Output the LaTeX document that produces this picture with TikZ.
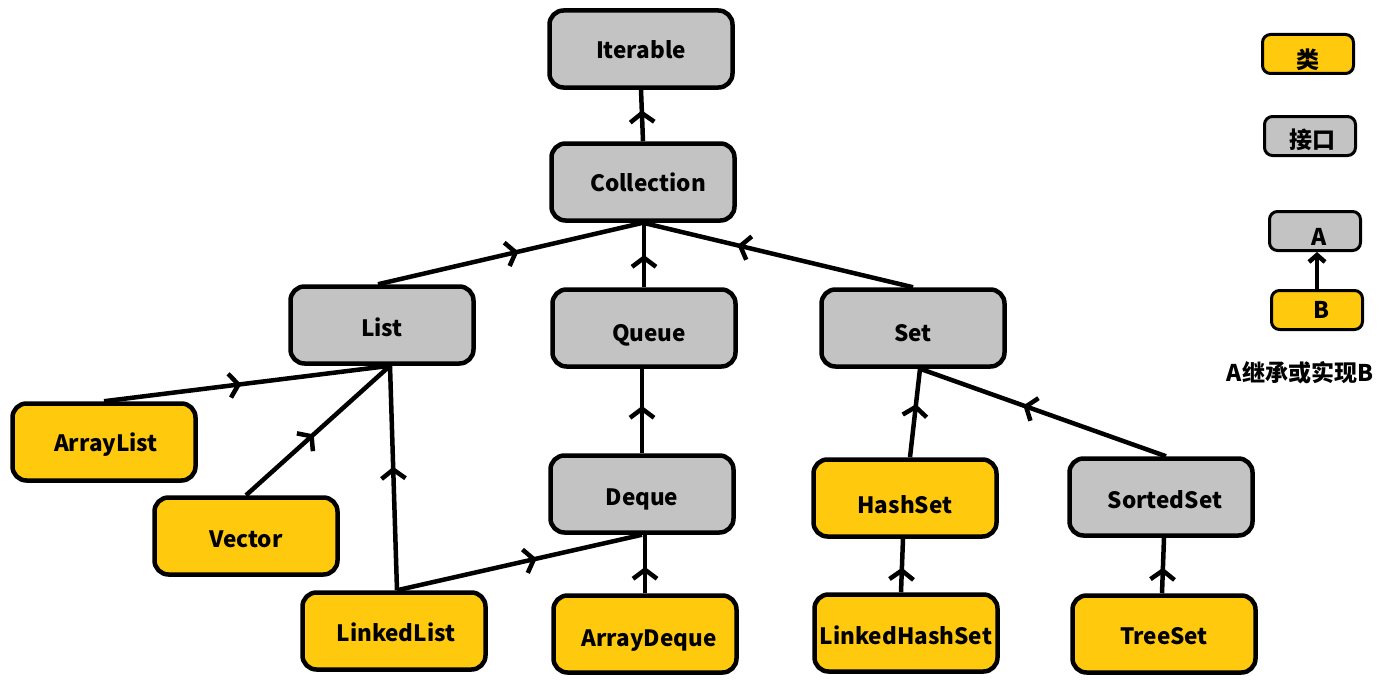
\documentclass[tikz,border=0pt]{standalone}
\usepackage{fontspec}
\setmainfont{Noto Sans CJK SC}
\newfontfamily\cjk{Noto Sans CJK SC}
\usetikzlibrary{arrows.meta,decorations.markings}
\definecolor{cls}{HTML}{FFC90E}
\definecolor{ifc}{HTML}{C3C3C3}
\newcommand{\dn}[2]{\raisebox{-#1}{#2}}
\tikzset{
  box/.style={draw=black, line width=4.5pt, rounded corners=14pt,
    minimum width=183pt, minimum height=77pt, inner sep=0pt,
    text height=14pt, text depth=0pt,
    font=\cjk\fontsize{22.5}{24}\selectfont\bfseries},
  clsbox/.style={box, fill=cls},
  ifcbox/.style={box, fill=ifc},
  legbox/.style={draw=black, line width=3pt, rounded corners=8pt,
    minimum width=91pt, minimum height=39pt, inner sep=0pt,
    text height=14pt, text depth=0pt,
    font=\cjk\fontsize{23}{25}\selectfont\bfseries},
  inh/.style={line width=4.5pt, postaction={decorate},
    decoration={markings, mark=at position #1 with {\arrow{Straight Barb[length=9pt,width=24pt]}}}},
  inh/.default=0.5
}
\begin{document}
\begin{tikzpicture}[x=1pt, y=-1pt]
\useasboundingbox (0,0) rectangle (1381,693);
% interfaces
\node[ifcbox] (Iterable) at (641,49) {\dn{3pt}{Iterable}};
\node[ifcbox] (Collection) at (643,182) {\dn{2pt}{\hspace{10pt}Collection}};
\node[ifcbox] (List) at (382,325) {\dn{4pt}{List}};
\node[ifcbox] (Queue) at (644,328) {\dn{6pt}{\hspace{10pt}Queue}};
\node[ifcbox] (Set) at (913,328) {\dn{6pt}{Set}};
\node[ifcbox] (Deque) at (642,494) {\dn{4pt}{Deque}};
\node[ifcbox] (SortedSet) at (1161,497) {\dn{4pt}{\hspace{8pt}SortedSet}};
% classes
\node[clsbox] (ArrayList) at (104,442) {\dn{2pt}{\hspace{4pt}ArrayList}};
\node[clsbox] (Vector) at (246,536) {\dn{4pt}{Vector}};
\node[clsbox] (LinkedList) at (394,631) {\dn{3pt}{\hspace{4pt}LinkedList}};
\node[clsbox] (ArrayDeque) at (645,634) {\dn{5pt}{\hspace{8pt}ArrayDeque}};
\node[clsbox] (HashSet) at (905,498) {\dn{8pt}{HashSet}};
\node[clsbox] (LinkedHashSet) at (906,633) {\dn{4pt}{LinkedHashSet}};
\node[clsbox] (TreeSet) at (1164,634) {\dn{3pt}{TreeSet}};
% connectors
\draw[inh=0.6] (Collection.north) -- (Iterable.south);
\draw[inh=0.53] ([xshift=-4pt]List.north) -- (Collection.south);
\draw[inh=0.5] (Queue.north) -- (Queue.north |- Collection.south);
\draw[inh=0.65] (Set.north) -- (Collection.south);
\draw[inh=0.48] (ArrayList.north) -- ([xshift=8pt]List.south);
\draw[inh=0.47] (Vector.north) -- ([xshift=8pt]List.south);
\draw[inh=0.55] ([xshift=3pt]LinkedList.north) -- ([xshift=8pt]List.south);
\draw[inh=0.57] ([xshift=3pt]LinkedList.north) -- (Deque.south);
\draw[inh=0.56] (Deque.north) -- (Queue.south -| Deque.north);
\draw[inh=0.45] (ArrayDeque.north) -- (Deque.south -| ArrayDeque.north);
\draw[inh=0.6] ([xshift=5pt]HashSet.north) -- ([xshift=7pt]Set.south);
\draw[inh=0.58] ([xshift=5pt]SortedSet.north) -- ([xshift=7pt]Set.south);
\draw[inh=0.46] ([xshift=-5pt]LinkedHashSet.north) -- ([xshift=-2pt]HashSet.south);
\draw[inh=0.46] ([xshift=-2pt]TreeSet.north) -- (SortedSet.south -| TreeSet.north);
% legend
\node[legbox, fill=cls] (LegCls) at (1308,54) {\dn{7pt}{类}};
\node[legbox, fill=ifc] (LegIfc) at (1310,136) {\dn{5pt}{\hspace{4pt}接口}};
\node[legbox, fill=ifc] (LegA) at (1315,231) {\dn{7pt}{\hspace{8pt}A}};
\node[legbox, fill=cls] (LegB) at (1317,310) {\dn{1pt}{\hspace{8pt}B}};
\draw[line width=4.5pt, -{Straight Barb[length=7pt,width=16pt]}] (LegB.north) -- (LegB.north |- LegA.south);
\node[font=\cjk\fontsize{23}{25}\selectfont\bfseries] (Caption) at (1300,373) {A继承或实现B};
\end{tikzpicture}
\end{document}
